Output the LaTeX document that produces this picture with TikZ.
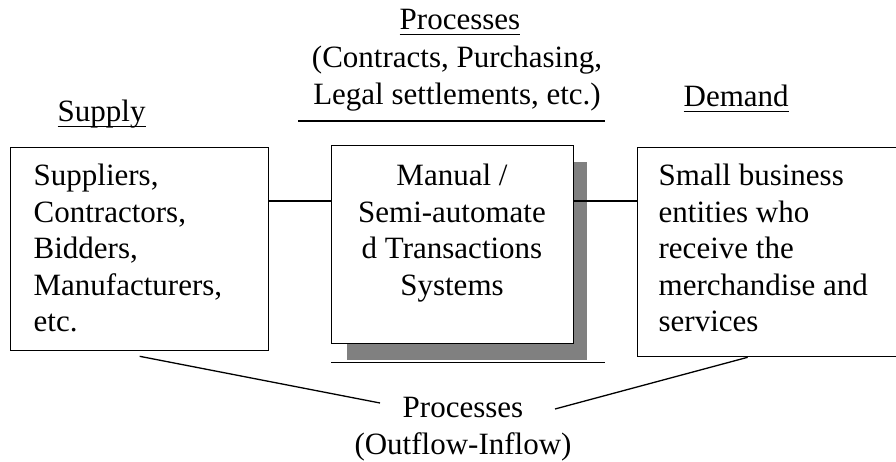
\documentclass[tikz,border=0pt]{standalone}
\usepackage{fontspec}
\setmainfont{Liberation Serif}
% word underline at a fixed depth below the baseline
\newcommand\wordul[1]{\setbox0=\hbox{#1}\rlap{\rule[-5pt]{\wd0}{1.4pt}}\box0}
\begin{document}
\begin{tikzpicture}[x=1pt,y=-1pt,line width=1.3pt,
  txt/.style={font=\fontsize{31}{36.5}\selectfont,inner sep=0pt},
  boxed/.style={draw,anchor=north west,inner sep=0pt},
]
\useasboundingbox (0,0) rectangle (896,462);

% boxes
\node[boxed,minimum width=258pt,minimum height=203pt] (sup) at (10,147) {};
\fill[gray] (347,162) rectangle (587,360);
\node[boxed,fill=white,minimum width=242pt,minimum height=198pt] (sys) at (331,145) {};
\node[boxed,minimum width=262pt,minimum height=209pt] (dem) at (637,147) {};

% box texts
\node[txt,anchor=north west,align=left] (suptxt) at (33,159.45)
  {\strut Suppliers,\\Contractors,\\Bidders,\\Manufacturers,\\etc.};
\node[txt,anchor=north,align=center] (systxt) at (452,159.45)
  {\strut Manual /\\Semi-automate\\d Transactions\\Systems};
\node[txt,anchor=north west,align=left] (demtxt) at (658,159.45)
  {\strut Small business\\entities who\\receive the\\merchandise and\\services};

% headings
\node[txt,anchor=base west] (supply) at (57,122) {\wordul{Supply}};
\node[txt,anchor=base west] (demand) at (683,107) {\wordul{Demand}};
\node[txt,anchor=base] (proc) at (460,30) {\wordul{Processes}};
\node[txt,anchor=north,align=center] (kinds) at (457,41.45)
  {\strut(Contracts, Purchasing,\\Legal settlements, etc.)};
\draw (298,121) -- (605,121);

% links between the boxes
\coordinate (row) at (0,201);
\draw (sup.east |- row) -- (sys.west |- row);
\draw (sys.east |- row) -- (dem.west |- row);
\draw (sys.south west) ++(0,18) -- ++(274,0);

% outflow / inflow
\node[txt,anchor=north,align=center] (flow) at (463,391.45)
  {\strut Processes\\(Outflow-Inflow)};
\coordinate (fl) at (380,403);
\coordinate (fr) at (555,409);
\draw ([yshift=-5pt]sup.south) -- (fl);
\draw ([xshift=-21pt]dem.south) -- (fr);
\end{tikzpicture}
\end{document}
